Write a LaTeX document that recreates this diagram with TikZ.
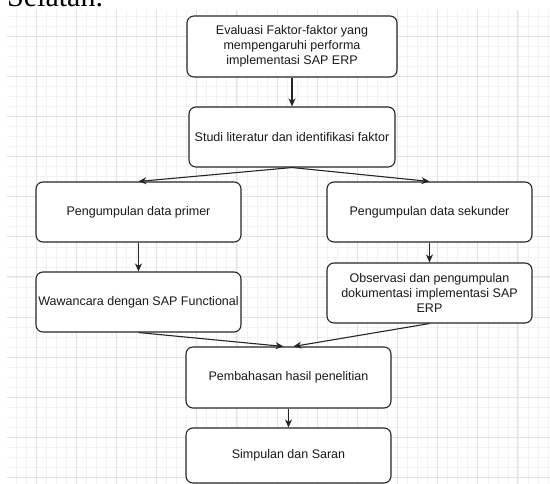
\documentclass[tikz,border=0pt]{standalone}
\usepackage{fontspec}
\setmainfont{Liberation Sans}
\newfontfamily\docserif{Liberation Serif}
\usetikzlibrary{arrows.meta}

\begin{document}
\begin{tikzpicture}[
    x=1pt, y=-1pt,
    >={Stealth[length=8pt, width=7pt, inset=2.5pt]},
    process/.style={rectangle, rounded corners=7pt, draw=black!85, line width=1.1pt, fill=white, minimum width=205pt, minimum height=60pt, align=center, inner sep=2pt, text=black!90, font=\fontsize{12.5}{15}\selectfont},
    arrow/.style={->, line width=1.1pt, draw=black!85},
    gridminor/.style={draw=black!5, line width=0.6pt},
    gridmajor/.style={draw=black!11, line width=0.8pt}
]

% ==================== Page and Grid ====================
\fill[white] (0,0) rectangle (550,484);
\useasboundingbox (0,0) rectangle (550,484);
\begin{scope}
\clip (0,0) rectangle (550,484);
\foreach \k in {-2,...,51} \draw[gridminor] ({36+10.04*\k},10) -- ({36+10.04*\k},484);
\foreach \k in {-2,...,44} \draw[gridminor] (7,{36+10.04*\k}) -- (550,{36+10.04*\k});
\foreach \j in {0,...,12} \draw[gridmajor] ({36+40.15*\j},10) -- ({36+40.15*\j},484);
\foreach \j in {0,...,11} \draw[gridmajor] (7,{36+40.15*\j}) -- (550,{36+40.15*\j});
\node[anchor=base west, inner sep=0pt, font=\docserif\fontsize{30}{36}\selectfont] (heading) at (7,7) {Selatan.};
\end{scope}

% ==================== Top ====================
\node[process, minimum width=210pt, minimum height=61pt] (Eval) at (292,46.5) {Evaluasi Faktor-faktor yang\\mempengaruhi performa\\implementasi SAP ERP};
\node[process, minimum width=206pt] (Studi) at (292,137) {Studi literatur dan identifikasi faktor};

% ==================== Data Primer (Left) ====================
\node[process] (Primer) at (138.5,212) {Pengumpulan data primer};
\node[process] (Wawancara) at (138.5,302) {Wawancara dengan SAP Functional};

% ==================== Data Sekunder (Right) ====================
\node[process] (Sekunder) at (429.5,212) {Pengumpulan data sekunder};
\node[process] (Observasi) at (429.5,293) {Observasi dan pengumpulan\\dokumentasi implementasi SAP\\ERP};

% ==================== Bottom ====================
\node[process, minimum height=61pt] (Pembahasan) at (288.5,377.5) {Pembahasan hasil penelitian};
\node[process, minimum height=55pt] (Simpulan) at (288.5,455.5) {Simpulan dan Saran};

% Connections
\draw[arrow] (Eval.south) -- (Studi.north);
\draw[arrow] (Studi.south) -- (Primer.north);
\draw[arrow] (Studi.south) -- (Sekunder.north);
\draw[arrow] (Primer.south) -- (Wawancara.north);
\draw[arrow] (Sekunder.south) -- (Observasi.north);
\draw[arrow] (Wawancara.south) -- ([xshift=-5pt]Pembahasan.north);
\draw[arrow] (Observasi.south) -- ([xshift=5pt]Pembahasan.north);
\draw[arrow] (Pembahasan.south) -- (Simpulan.north);

\end{tikzpicture}
\end{document}
